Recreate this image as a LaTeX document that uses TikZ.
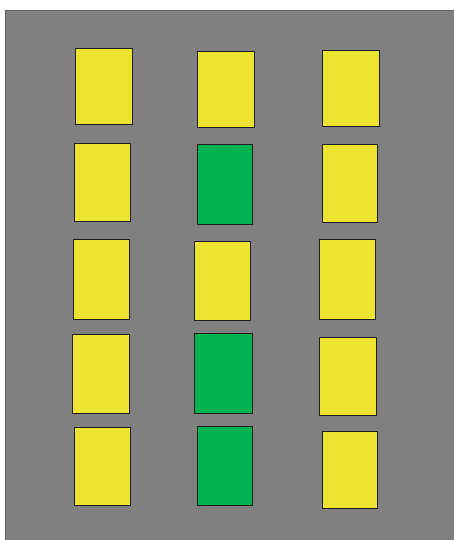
\documentclass[tikz,border=0pt]{standalone}
\usetikzlibrary{positioning}
\definecolor{bggray}{RGB}{128,128,128}
\definecolor{edgegray}{RGB}{95,95,95}
\definecolor{cellyellow}{RGB}{236,228,48}
\definecolor{cellgreen}{RGB}{0,178,80}
\definecolor{celledge}{RGB}{30,30,30}
\tikzset{
  cellbase/.style={rectangle, draw=celledge, line width=0.9pt, inner sep=0pt, outer sep=0pt, anchor=north west},
  ycell/.style={cellbase, fill=cellyellow},
  gcell/.style={cellbase, fill=cellgreen},
}
\newcommand{\mycell}[6]{%
  \node[#1, minimum width=#4-#2, minimum height=#5-#3] (#6) at (#2,#3) {};}
\begin{document}
\begin{tikzpicture}[x=1pt,y=-1pt]
\useasboundingbox (0,0) rectangle (454,540);
\fill[white] (0,0) rectangle (454,540);
\fill[bggray] (5,10) rectangle (454,540);
\draw[edgegray, line width=1pt] (5.5,540) -- (5.5,10.5) -- (454,10.5);
% row 1
\mycell{ycell}{75}{48}{132}{124}{a1}
\mycell{ycell}{197}{51}{254}{127}{b1}
\mycell{ycell}{322}{50}{379}{126}{c1}
% row 2
\mycell{ycell}{74}{143}{130}{221}{a2}
\mycell{gcell}{197}{144}{252}{224}{b2}
\mycell{ycell}{322}{144}{377}{222}{c2}
% row 3
\mycell{ycell}{73}{239}{129}{319}{a3}
\mycell{ycell}{194}{241}{250}{320}{b3}
\mycell{ycell}{319}{239}{375}{319}{c3}
% row 4
\mycell{ycell}{72}{334}{129}{413}{a4}
\mycell{gcell}{194}{333}{252}{413}{b4}
\mycell{ycell}{319}{337}{376}{415}{c4}
% row 5
\mycell{ycell}{74}{427}{130}{505}{a5}
\mycell{gcell}{197}{426}{252}{505}{b5}
\mycell{ycell}{322}{431}{377}{508}{c5}
\end{tikzpicture}
\end{document}
